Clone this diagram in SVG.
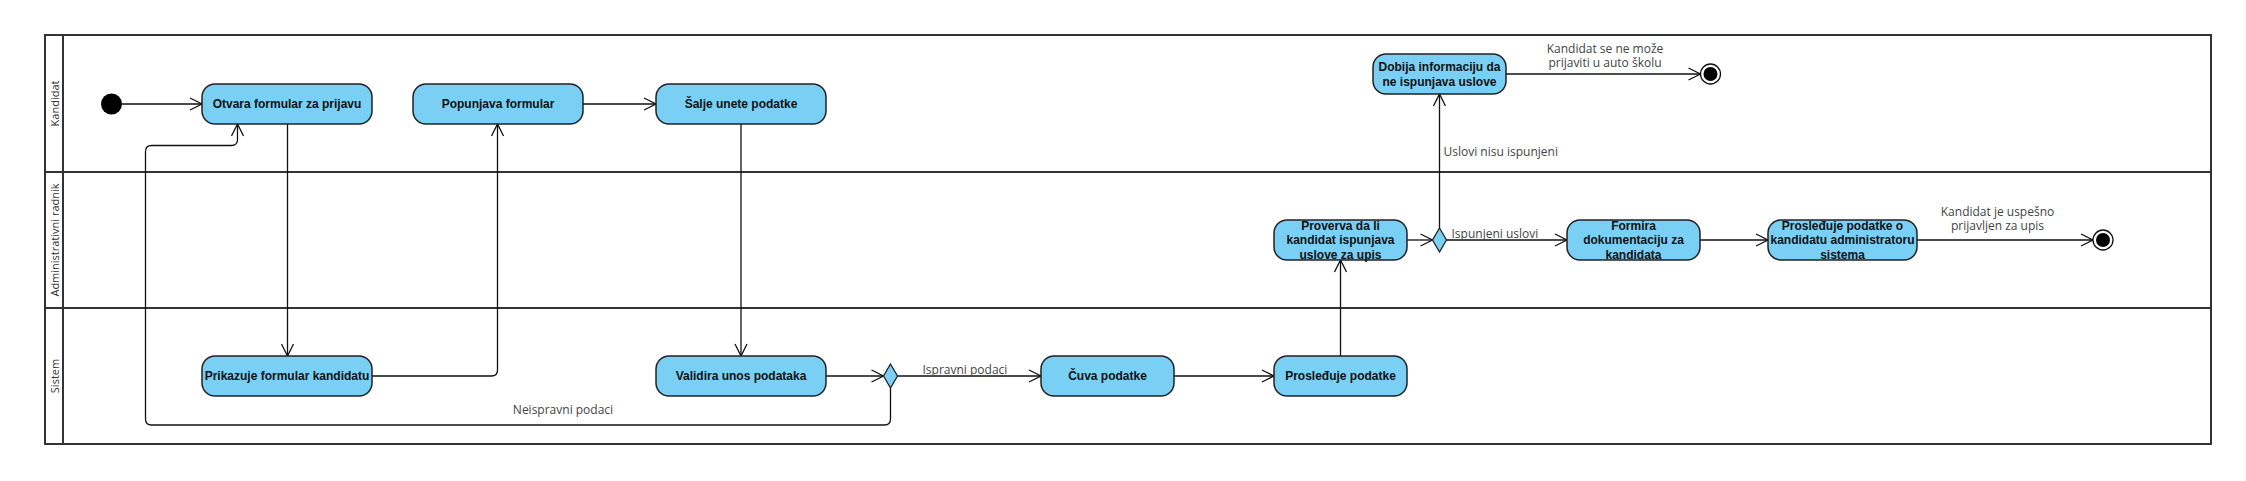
<svg xmlns="http://www.w3.org/2000/svg" width="2246" height="481" viewBox="0 0 2246 481">
<style>
.lane{fill:none;stroke:#333;stroke-width:2}
.lanelbl{font-family:"Open Sans","DejaVu Sans",sans-serif;font-size:11px;fill:#333;text-anchor:middle}
.act{fill:#7ACFF5;stroke:#222;stroke-width:1.5}
.dec{fill:#7ACFF5;stroke:#222;stroke-width:1.3}
.nt{font-family:"Liberation Sans",Arial,sans-serif;font-size:12px;font-weight:bold;fill:#111;text-anchor:middle}
.edge{fill:none;stroke:#111;stroke-width:1.3;marker-end:url(#arr)}
.el{font-family:"Open Sans","DejaVu Sans",sans-serif;font-size:12px;fill:#444}
.elm{font-family:"Open Sans","DejaVu Sans",sans-serif;font-size:12px;fill:#444;text-anchor:middle}
</style>
<defs>
<marker id="arr" markerUnits="userSpaceOnUse" markerWidth="16" markerHeight="16" refX="13" refY="7" orient="auto">
<path d="M1,1 L13,7 L1,13" fill="none" stroke="#111" stroke-width="1.3"/>
</marker>
</defs>
<rect width="2246" height="481" fill="#fff"/>
<g id="pool">
<rect class="lane" x="45" y="35" width="2166" height="409"/>
<line class="lane" x1="63" y1="35" x2="63" y2="444"/>
<line class="lane" x1="45" y1="172" x2="2211" y2="172"/>
<line class="lane" x1="45" y1="308" x2="2211" y2="308"/>
<text class="lanelbl" transform="translate(59,103.5) rotate(-90)">Kandidat</text>
<text class="lanelbl" transform="translate(59,240) rotate(-90)">Administrativni radnik</text>
<text class="lanelbl" transform="translate(59,376) rotate(-90)">Sistem</text>
</g>
<g id="connectors">
<path class="edge" d="M122,104 H202"/>
<path class="edge" d="M287.5,124 V356"/>
<path class="edge" d="M372,376 H491.5 Q497.5,376 497.5,370 V124"/>
<path class="edge" d="M583,104 H656"/>
<path class="edge" d="M741,124 V356"/>
<path class="edge" d="M826,376 H883.5"/>
<path class="edge" d="M897.5,376 H1041"/>
<text class="el" x="922.5" y="374">Ispravni podaci</text>
<path class="edge" d="M890.5,388 V419 Q890.5,425 884.5,425 H151.5 Q145.5,425 145.5,419 V151.5 Q145.5,145.5 151.5,145.5 H231.5 Q237.5,145.5 237.5,139.5 V124"/>
<text class="elm" x="563" y="414">Neispravni podaci</text>
<path class="edge" d="M1174,376 H1274"/>
<path class="edge" d="M1340.5,356 V260"/>
<path class="edge" d="M1407,240 H1432.5"/>
<path class="edge" d="M1446.5,240 H1567"/>
<text class="el" x="1451.5" y="238">Ispunjeni uslovi</text>
<path class="edge" d="M1439.5,228 V94"/>
<text class="el" x="1443.5" y="156">Uslovi nisu ispunjeni</text>
<path class="edge" d="M1506,74 H1700.5"/>
<text class="elm" x="1605" y="53">Kandidat se ne može</text>
<text class="elm" x="1605" y="67">prijaviti u auto školu</text>
<path class="edge" d="M1700,240 H1768"/>
<path class="edge" d="M1917,240 H2093"/>
<text class="elm" x="1997.5" y="216">Kandidat je uspešno</text>
<text class="elm" x="1997.5" y="230">prijavljen za upis</text>
</g>
<g id="start"><circle cx="111.5" cy="104" r="10.5" fill="#000"/></g>
<g id="otvara"><rect class="act" x="202" y="84" width="170" height="40" rx="13"/><text class="nt" x="287" y="108.3">Otvara formular za prijavu</text></g>
<g id="popunjava"><rect class="act" x="413" y="84" width="170" height="40" rx="13"/><text class="nt" x="498" y="108.3">Popunjava formular</text></g>
<g id="salje"><rect class="act" x="656" y="84" width="170" height="40" rx="13"/><text class="nt" x="741" y="108.3">Šalje unete podatke</text></g>
<g id="prikazuje"><rect class="act" x="202" y="356" width="170" height="40" rx="13"/><text class="nt" x="287" y="380.3">Prikazuje formular kandidatu</text></g>
<g id="validira"><rect class="act" x="656" y="356" width="170" height="40" rx="13"/><text class="nt" x="741" y="380.3">Validira unos podataka</text></g>
<g id="decision1"><path class="dec" d="M890.5,364 L897.5,376 L890.5,388 L883.5,376 Z"/></g>
<g id="cuva"><rect class="act" x="1041" y="356" width="133" height="40" rx="13"/><text class="nt" x="1107.5" y="380.3">Čuva podatke</text></g>
<g id="prosledjuje"><rect class="act" x="1274" y="356" width="133" height="40" rx="13"/><text class="nt" x="1340.5" y="380.3">Prosleđuje podatke</text></g>
<g id="proverva"><rect class="act" x="1274" y="220" width="133" height="40" rx="13"/><text class="nt" x="1340.5" y="230">Proverva da li</text><text class="nt" x="1340.5" y="244.3">kandidat ispunjava</text><text class="nt" x="1340.5" y="258.6">uslove za upis</text></g>
<g id="decision2"><path class="dec" d="M1439.5,228 L1446.5,240 L1439.5,252 L1432.5,240 Z"/></g>
<g id="dobija"><rect class="act" x="1373" y="54" width="133" height="40" rx="13"/><text class="nt" x="1439.5" y="71">Dobija informaciju da</text><text class="nt" x="1439.5" y="86">ne ispunjava uslove</text></g>
<g id="end1"><circle cx="1710.5" cy="74" r="10" fill="#fff" stroke="#111" stroke-width="1.3"/><circle cx="1710.5" cy="74" r="7" fill="#000"/></g>
<g id="formira"><rect class="act" x="1567" y="220" width="133" height="40" rx="13"/><text class="nt" x="1633.5" y="230">Formira</text><text class="nt" x="1633.5" y="244.3">dokumentaciju za</text><text class="nt" x="1633.5" y="258.6">kandidata</text></g>
<g id="prosledjuje2"><rect class="act" x="1768" y="220" width="149" height="40" rx="13"/><text class="nt" x="1842.5" y="230">Prosleđuje podatke o</text><text class="nt" x="1842.5" y="244.3">kandidatu administratoru</text><text class="nt" x="1842.5" y="258.6">sistema</text></g>
<g id="end2"><circle cx="2103" cy="240" r="10" fill="#fff" stroke="#111" stroke-width="1.3"/><circle cx="2103" cy="240" r="7" fill="#000"/></g>
</svg>
